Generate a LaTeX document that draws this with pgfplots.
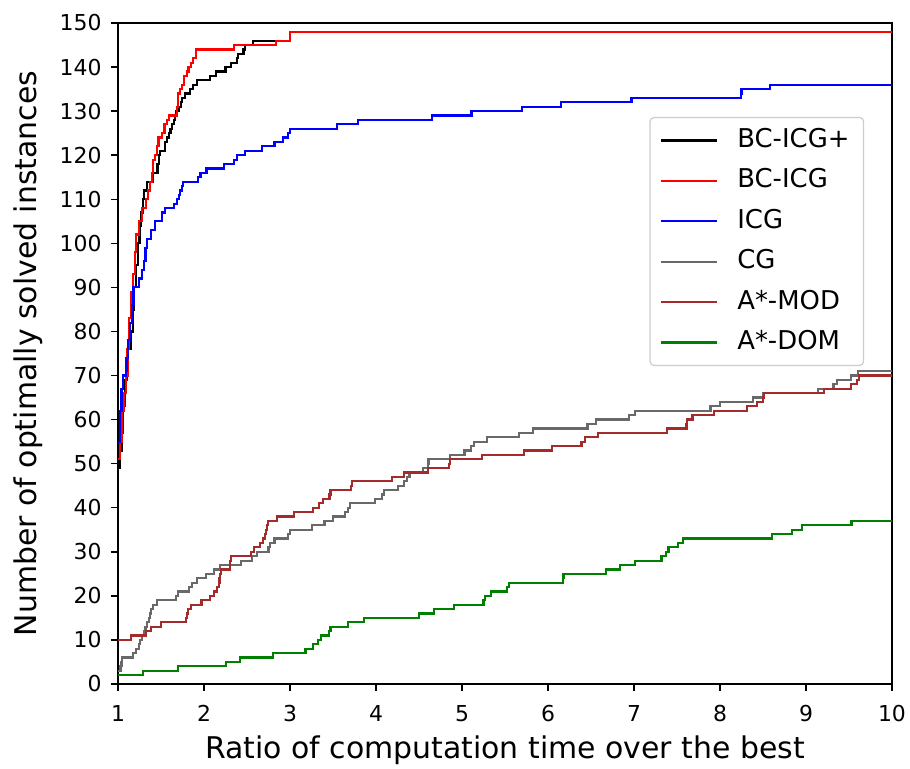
\documentclass[border=0pt]{standalone}
\usepackage{fontspec}
\setmainfont{DejaVu Sans}
\usepackage{pgfplots}
\pgfplotsset{compat=1.18}
\definecolor{dimgray}{HTML}{696969}
\definecolor{mplbrown}{HTML}{A52A2A}
\definecolor{mplgreen}{HTML}{008000}
\begin{document}
\begin{tikzpicture}
\useasboundingbox (-118bp,-85bp) rectangle (792bp,684bp);
\begin{axis}[
  at={(0,0)}, anchor=south west,
  width=774bp, height=661bp, scale only axis,
  xmin=1, xmax=10, ymin=0, ymax=150,
  xtick={1,2,...,10}, ytick={0,10,...,150},
  tick align=outside, xtick pos=bottom, ytick pos=left,
  major tick length=7bp,
  every tick/.style={black, line width=1.5bp},
  axis line style={line width=1.5bp},
  /pgf/number format/assume math mode=true,
  tick label style={font=\fontsize{22}{26}\selectfont},
  xticklabel shift=11bp, yticklabel shift=6bp,
  xlabel={Ratio of computation time over the best},
  ylabel={Number of optimally solved instances},
  every axis x label/.style={at={(axis description cs:0.5,0)}, anchor=center, yshift=-66bp, font=\fontsize{30}{34}\selectfont},
  every axis y label/.style={at={(axis description cs:0,0.5)}, anchor=center, xshift=-90bp, rotate=90, font=\fontsize{30}{34}\selectfont},
  legend style={at={(0.964,0.858)}, anchor=north east, draw=black!20, line width=1.2bp,
    rounded corners=4bp, fill=white, font=\fontsize{26}{30}\selectfont,
    inner xsep=10bp, inner ysep=7bp, row sep=8.4bp,
    nodes={inner xsep=4bp, inner ysep=3bp, text height=20bp, text depth=6bp},
    /tikz/every odd column/.append style={column sep=15bp}},
  legend cell align=left,
  legend image code/.code={\draw[#1] (0bp,0bp) -- (56bp,0bp);},
  every axis plot/.append style={line width=2.2bp, const plot},
]
\addplot[black] coordinates {
(1.00,49) (1.02,53) (1.04,57) (1.06,63) (1.08,69) (1.10,73) (1.12,76) (1.15,80)
(1.17,85) (1.19,90) (1.21,95) (1.23,100) (1.25,104) (1.27,107) (1.29,110) (1.30,112)
(1.34,114) (1.41,116) (1.46,118) (1.48,120) (1.49,121) (1.55,123) (1.57,124) (1.59,125)
(1.61,126) (1.63,127) (1.65,128) (1.66,129) (1.67,130) (1.71,131) (1.73,132) (1.74,133)
(1.78,134) (1.84,135) (1.87,136) (1.92,137) (2.07,138) (2.14,139) (2.25,140) (2.31,141)
(2.38,142) (2.40,143) (2.46,144) (2.48,145) (2.57,146) (3.00,148) (10,148)};
\addlegendentry{BC-ICG+}
\addplot[red] coordinates {
(1.00,51) (1.02,55) (1.04,58) (1.05,62) (1.07,66) (1.09,70) (1.11,76) (1.13,83)
(1.15,89) (1.17,93) (1.20,98) (1.21,102) (1.24,105) (1.28,108) (1.33,110) (1.35,112)
(1.37,114) (1.40,116) (1.41,119) (1.43,120) (1.45,122) (1.47,124) (1.51,125) (1.54,127)
(1.57,128) (1.59,129) (1.69,131) (1.70,134) (1.72,135) (1.74,136) (1.77,138) (1.80,139)
(1.82,140) (1.85,141) (1.87,142) (1.91,144) (2.35,145) (2.84,146) (3.00,148) (10,148)};
\addlegendentry{BC-ICG}
\addplot[blue] coordinates {
(1.00,55) (1.02,62) (1.04,67) (1.06,70) (1.09,71) (1.10,74) (1.12,78) (1.14,82)
(1.16,86) (1.18,90) (1.24,92) (1.28,94) (1.30,96) (1.32,99) (1.34,101) (1.38,103)
(1.43,105) (1.51,107) (1.55,108) (1.65,109) (1.69,110) (1.71,111) (1.72,112) (1.74,113)
(1.76,114) (1.93,115) (1.96,116) (2.03,117) (2.23,118) (2.35,119) (2.38,120) (2.48,121)
(2.67,122) (2.82,123) (2.92,124) (2.98,125) (3.00,126) (3.55,127) (3.79,128) (4.65,129)
(5.11,130) (5.70,131) (6.15,132) (6.97,133) (8.24,134) (8.25,135) (8.58,136) (10,136)};
\addlegendentry{ICG}
\addplot[dimgray] coordinates {
(1.00,3) (1.03,4) (1.04,5) (1.05,6) (1.17,7) (1.21,8) (1.24,9) (1.26,10)
(1.28,11) (1.30,12) (1.32,13) (1.34,14) (1.36,15) (1.37,16) (1.38,17) (1.41,18)
(1.45,19) (1.67,20) (1.70,21) (1.83,22) (1.86,23) (1.92,24) (2.02,25) (2.12,26)
(2.19,27) (2.43,28) (2.56,29) (2.62,30) (2.75,31) (2.77,32) (2.82,33) (2.98,34)
(3.00,35) (3.26,36) (3.40,37) (3.50,38) (3.64,39) (3.67,40) (3.70,41) (3.99,42)
(4.07,43) (4.09,44) (4.26,45) (4.33,46) (4.36,47) (4.39,48) (4.55,49) (4.60,50)
(4.61,51) (4.86,52) (5.03,53) (5.10,54) (5.14,55) (5.29,56) (5.66,57) (5.83,58)
(6.46,59) (6.56,60) (6.94,61) (7.01,62) (7.89,63) (8.00,64) (8.38,65) (8.50,66)
(9.14,67) (9.32,68) (9.36,69) (9.52,70) (9.60,71) (10,71)};
\addlegendentry{CG}
\addplot[mplbrown] coordinates {
(1.00,10) (1.15,11) (1.33,12) (1.38,13) (1.50,14) (1.79,15) (1.80,16) (1.81,17)
(1.85,18) (1.97,19) (2.07,20) (2.12,21) (2.15,22) (2.17,23) (2.18,24) (2.19,25)
(2.20,26) (2.30,27) (2.305,28) (2.31,29) (2.55,30) (2.58,31) (2.65,32) (2.69,33)
(2.71,34) (2.72,35) (2.73,36) (2.74,37) (2.85,38) (3.05,39) (3.27,40) (3.34,41)
(3.38,42) (3.46,43) (3.47,44) (3.71,45) (3.72,46) (4.19,47) (4.33,48) (4.60,49)
(4.85,50) (4.86,51) (5.23,52) (5.72,53) (6.05,54) (6.39,55) (6.43,56) (6.58,57)
(7.38,58) (7.61,59) (7.62,60) (7.68,61) (7.93,62) (8.31,63) (8.43,64) (8.50,65)
(8.51,66) (9.21,67) (9.52,68) (9.59,69) (9.62,70) (10,70)};
\addlegendentry{A*-MOD}
\addplot[mplgreen] coordinates {
(1.00,2) (1.29,3) (1.70,4) (2.26,5) (2.42,6) (2.80,7) (3.18,8) (3.27,9)
(3.33,10) (3.36,11) (3.45,12) (3.47,13) (3.67,14) (3.86,15) (4.50,16) (4.67,17)
(4.91,18) (5.25,19) (5.27,20) (5.34,21) (5.52,22) (5.55,23) (6.17,24) (6.18,25)
(6.67,26) (6.84,27) (7.01,28) (7.32,29) (7.37,30) (7.40,31) (7.51,32) (7.57,33)
(8.60,34) (8.84,35) (8.95,36) (9.53,37) (10,37)};
\addlegendentry{A*-DOM}
\end{axis}
\end{tikzpicture}
\end{document}
